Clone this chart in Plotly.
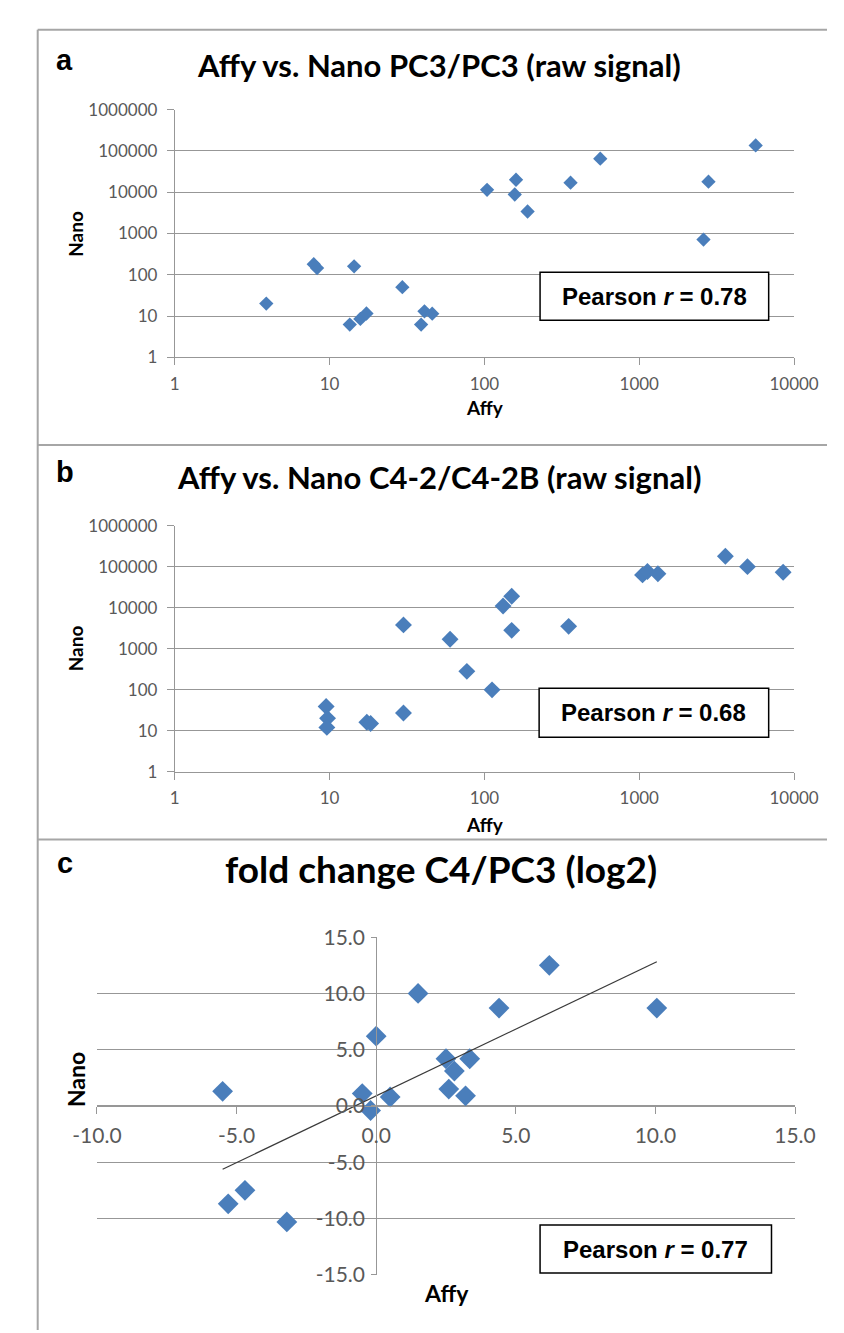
import numpy as np
import plotly.graph_objects as go

# ---------------- data ----------------
a_affy = [3.9, 7.9, 8.3, 14.4, 13.5, 15.8, 17.3, 29.5, 39, 41, 46,
          104, 160, 157, 190, 360, 560, 2600, 2800, 5650]
a_nano = [20, 180, 145, 160, 6.2, 8.5, 11.5, 50, 6.2, 13, 11.4,
          11400, 20000, 8800, 3400, 17000, 65000, 710, 18000, 136000]

b_affy = [9.5, 9.7, 9.6, 17.4, 18.4, 30, 30, 60, 77, 112, 132, 150, 150,
          350, 1050, 1130, 1320, 3600, 5000, 8500]
b_nano = [39, 20, 12, 16, 15, 27, 3800, 1700, 280, 99, 11000, 19000, 2800,
          3500, 63000, 76000, 67000, 180000, 100000, 73000]

c_affy = [-5.5, -5.3, -4.7, -3.2, -0.5, -0.2, 0.0, 0.5, 1.5, 2.5, 2.6, 2.8,
          3.2, 3.35, 4.4, 6.2, 10.05]
c_nano = [1.3, -8.7, -7.5, -10.3, 1.1, -0.4, 6.2, 0.8, 10.0, 4.2, 1.5, 3.1,
          0.9, 4.2, 8.7, 12.5, 8.7]

titles = ["Affy vs. Nano PC3/PC3 (raw signal)",
          "Affy vs. Nano C4-2/C4-2B (raw signal)",
          "fold change C4/PC3 (log2)"]
panel_letters = ["a", "b", "c"]
pearson_r = ["0.78", "0.68", "0.77"]

log_x_ticks = [1, 10, 100, 1000, 10000]
log_x_labels = ["1", "10", "100", "1000", "10000"]
log_y_ticks = [1, 10, 100, 1000, 10000, 100000, 1000000]
log_y_labels = ["1", "10", "100", "1000", "10000", "100000", "1000000"]
c_x_ticks = [-10, -5, 0, 5, 10, 15]
c_y_ticks = [-15, -10, -5, 0, 5, 10, 15]

# ---------------- geometry helpers ----------------
W, H = 844, 1333
def PX(p):
    return p / W
def PY(p):
    return 1 - p / H

BLUE = "#4A7EBB"
GRID = "#979797"
TICKC = "#595959"
TICKFONT = dict(family="Lato, Carlito, sans-serif", size=17, color=TICKC)

fig = go.Figure()

fig.add_trace(go.Scatter(x=a_affy, y=a_nano, mode="markers", xaxis="x", yaxis="y",
                         marker=dict(symbol="diamond", size=11, color=BLUE), showlegend=False))
fig.add_trace(go.Scatter(x=b_affy, y=b_nano, mode="markers", xaxis="x2", yaxis="y2",
                         marker=dict(symbol="diamond", size=13, color=BLUE), showlegend=False))
fig.add_trace(go.Scatter(x=c_affy, y=c_nano, mode="markers", xaxis="x3", yaxis="y3",
                         marker=dict(symbol="diamond", size=16, color=BLUE), showlegend=False))

# linear trend line for panel c (least squares over the data range)
slope, intercept = np.polyfit(c_affy, c_nano, 1)
tx = np.array([min(c_affy), max(c_affy)])
fig.add_trace(go.Scatter(x=tx, y=slope * tx + intercept, mode="lines", xaxis="x3", yaxis="y3",
                         line=dict(color="#3A3A3A", width=1.2), showlegend=False))

def log_axes(xdom, ydom):
    xa = dict(type="log", range=[0, 4], domain=[PX(xdom[0]), PX(xdom[1])],
              tickvals=log_x_ticks, ticktext=log_x_labels, showgrid=False,
              showline=True, linecolor=GRID, linewidth=1, ticks="outside", ticklen=7,
              tickcolor=GRID, tickfont=TICKFONT, zeroline=False, ticklabelstandoff=4)
    ya = dict(type="log", range=[0, 6], domain=[PY(ydom[1]), PY(ydom[0])],
              tickvals=log_y_ticks, ticktext=log_y_labels, showgrid=True,
              gridcolor=GRID, gridwidth=1, showline=True, linecolor=GRID, linewidth=1,
              ticks="outside", ticklen=7, tickcolor=GRID, tickfont=TICKFONT,
              zeroline=False, ticklabelstandoff=6)
    return xa, ya

xa1, ya1 = log_axes((150.7, 809), (89.3, 341.7))
xa2, ya2 = log_axes((150.7, 809), (513.3, 764))
xa1.update(anchor="y"); ya1.update(anchor="x")
xa2.update(anchor="y2"); ya2.update(anchor="x2")

# panel c : axes crossing at zero
cx_dom = [PX(68), PX(810)]
cy_dom = [PY(1276.7), PY(932.7)]
cx_rng = [-10, 15]
cy_rng = [-15, 15]
x0_pos = cx_dom[0] + (0 - cx_rng[0]) / (cx_rng[1] - cx_rng[0]) * (cx_dom[1] - cx_dom[0])
y0_pos = cy_dom[0] + (0 - cy_rng[0]) / (cy_rng[1] - cy_rng[0]) * (cy_dom[1] - cy_dom[0])
TICKFONT_C = dict(family="Lato, Carlito, sans-serif", size=21, color=TICKC)
xa3 = dict(range=cx_rng, domain=cx_dom, anchor="free", position=y0_pos,
           tickvals=c_x_ticks, ticktext=[f"{v:.1f}" for v in c_x_ticks],
           showgrid=False, zeroline=False, showline=True, linecolor=GRID, linewidth=1,
           ticks="outside", ticklen=7, tickcolor=GRID, tickfont=TICKFONT_C, ticklabelstandoff=4)
ya3 = dict(range=cy_rng, domain=cy_dom, anchor="free", position=x0_pos,
           tickvals=c_y_ticks, ticktext=[f"{v:.1f}" for v in c_y_ticks],
           showgrid=True, gridcolor=GRID, gridwidth=1, zeroline=False, showline=True,
           linecolor=GRID, linewidth=1, ticks="outside", ticklen=5, tickcolor=GRID,
           tickfont=TICKFONT_C, ticklabelstandoff=2)

annotations = []
shapes = []

def ann(text, x, y, size, family, bold=True, angle=0, color="black"):
    annotations.append(dict(text=f"<b>{text}</b>" if bold else text, x=PX(x), y=PY(y),
                            xref="paper", yref="paper", showarrow=False, xanchor="center",
                            yanchor="middle", textangle=angle,
                            font=dict(size=size, family=family, color=color)))

TITLEF = "Lato, Carlito, sans-serif"
ARIAL = "Liberation Sans, Arial, sans-serif"

title_x = [431.5, 431.5, 434]
title_y = [44, 464, 863]
title_size = [31, 31, 37]
letter_y = [39, 459, 857]
for i in range(3):
    ann(titles[i], title_x[i], title_y[i], title_size[i], TITLEF)
    ann(panel_letters[i], 34, letter_y[i], 29, ARIAL)

nano_pos = [(45, 215.5), (45, 638), (45, 1078)]
affy_pos = [(480, 393), (480, 818), (440, 1295)]
axis_title_size = [19, 19, 23]
for i in range(3):
    ann("Nano", nano_pos[i][0], nano_pos[i][1], axis_title_size[i], TITLEF, angle=-90)
    ann("Affy", affy_pos[i][0], affy_pos[i][1], axis_title_size[i], TITLEF)

boxes = [(539, 255, 782, 304), (538, 679, 782, 729), (539, 1226, 785, 1275)]
for i, (x0, y0, x1, y1) in enumerate(boxes):
    shapes.append(dict(type="rect", xref="paper", yref="paper", x0=PX(x0), x1=PX(x1),
                       y0=PY(y1), y1=PY(y0), line=dict(color="black", width=1.5),
                       fillcolor="white", layer="above"))
    annotations.append(dict(text=f"<b>Pearson <i>r</i> = {pearson_r[i]}</b>",
                            x=PX((x0 + x1) / 2), y=PY((y0 + y1) / 2), xref="paper", yref="paper",
                            showarrow=False, xanchor="center", yanchor="middle",
                            font=dict(size=24, family=ARIAL, color="black")))

# chart frames
FRAME = "#A6A6A6"
for (x0, y0, x1, y1) in [(5, 8, 5, H), (5, 8, W, 8), (5, 431, W, 431), (5, 833, W, 833)]:
    shapes.append(dict(type="line", xref="paper", yref="paper", x0=PX(x0), x1=PX(x1),
                       y0=PY(y0), y1=PY(y1), line=dict(color=FRAME, width=2)))

fig.update_layout(width=W, height=H, margin=dict(l=0, r=0, t=0, b=0),
                  paper_bgcolor="white", plot_bgcolor="white",
                  xaxis=xa1, yaxis=ya1, xaxis2=xa2, yaxis2=ya2, xaxis3=xa3, yaxis3=ya3,
                  annotations=annotations, shapes=shapes, showlegend=False)

fig.write_html("out.html")
